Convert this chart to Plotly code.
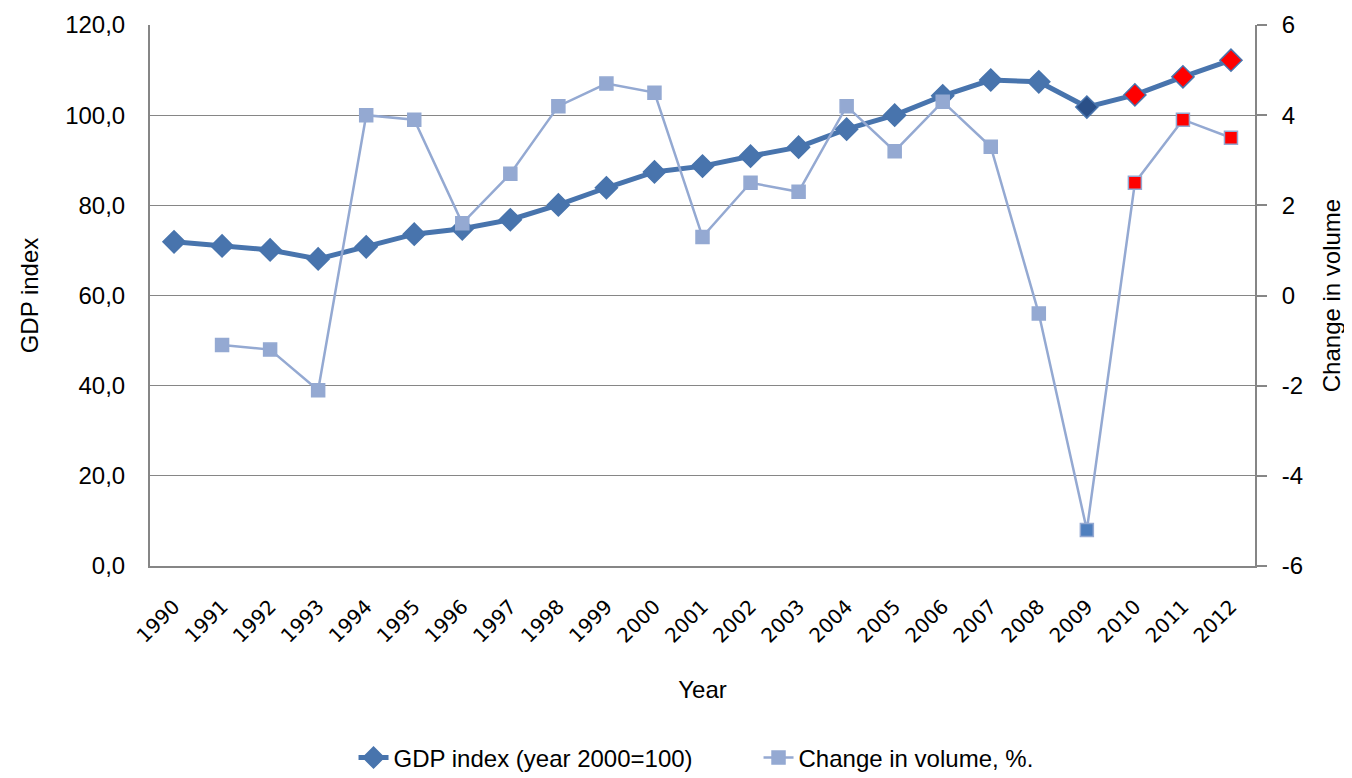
import plotly.graph_objects as go

years = [str(y) for y in range(1990, 2013)]
gdp_index = [71.9, 71.0, 70.1, 68.1, 70.8, 73.6, 74.8, 76.8, 80.1, 83.9, 87.4, 88.7,
             90.9, 92.9, 96.9, 100.0, 104.3, 107.8, 107.4, 101.8, 104.5, 108.5, 112.2]
change_years = years[1:]
change_volume = [-1.1, -1.2, -2.1, 4.0, 3.9, 1.6, 2.7, 4.2, 4.7, 4.5, 1.3, 2.5,
                 2.3, 4.2, 3.2, 4.3, 3.3, -0.4, -5.2, 2.5, 3.9, 3.5]
left_ticks = [0, 20, 40, 60, 80, 100, 120]
left_ticktext = ["0,0", "20,0", "40,0", "60,0", "80,0", "100,0", "120,0"]
right_ticks = [-6, -4, -2, 0, 2, 4, 6]
right_ticktext = ["-6", "-4", "-2", "0", "2", "4", "6"]

GDP_C = "#4874AD"
CHG_C = "#94A9D2"

def gdp_fill(y):
    if y == "2009":
        return "#2B5088"
    if y in ("2010", "2011", "2012"):
        return "#FF0000"
    return GDP_C

def chg_fill(y):
    if y == "2009":
        return "#4F7FBE"
    if y in ("2010", "2011", "2012"):
        return "#FF0000"
    return CHG_C

font = "Liberation Sans, Arial, sans-serif"
yearfont = "DejaVu Sans, Verdana, sans-serif"

fig = go.Figure()
fig.add_trace(go.Scatter(
    x=years, y=gdp_index, name="GDP index (year 2000=100)", mode="lines+markers",
    line=dict(color=GDP_C, width=5),
    marker=dict(symbol="diamond", size=17, color=[gdp_fill(y) for y in years],
                line=dict(color=GDP_C, width=1.5)),
    yaxis="y"))
fig.add_trace(go.Scatter(
    x=change_years, y=change_volume, name="Change in volume, %.", mode="lines+markers",
    line=dict(color=CHG_C, width=2.5),
    marker=dict(symbol="square", size=13, color=[chg_fill(y) for y in change_years],
                line=dict(color=CHG_C, width=1.5)),
    yaxis="y2"))

fig.update_layout(
    width=1344, height=770,
    margin=dict(l=142, r=97, t=17, b=212),
    paper_bgcolor="white", plot_bgcolor="white",
    font=dict(family=font, size=24, color="#000000"),
    showlegend=True,
    legend=dict(orientation="h", xref="paper", x=0.5507, xanchor="center",
                yref="container", y=0.026, yanchor="middle",
                font=dict(family=font, size=24), entrywidth=360, entrywidthmode="pixels"),
    xaxis=dict(type="category", range=[-0.5, 22.5], tickangle=-45, automargin=False,
               tickfont=dict(family=yearfont, size=20), ticklabelstandoff=19,
               showline=True, linecolor="#868686", linewidth=2, mirror=False,
               showgrid=False, ticks="",
               title=dict(text="Year", font=dict(family=font, size=24), standoff=35)),
    yaxis=dict(range=[0, 120], tickvals=left_ticks, ticktext=left_ticktext, automargin=False,
               showline=True, linecolor="#868686", linewidth=2,
               showgrid=True, gridcolor="#868686", gridwidth=1.3, zeroline=False,
               ticks="", tickfont=dict(family=font, size=24), ticklabelstandoff=18,
               title=dict(text="GDP index", font=dict(family=font, size=24), standoff=20)),
    yaxis2=dict(range=[-6, 6], tickvals=right_ticks, ticktext=right_ticktext, overlaying="y", side="right",
                automargin=False,
                showline=True, linecolor="#868686", linewidth=2,
                showgrid=False, zeroline=False, ticks="outside", ticklen=10, tickcolor="#868686",
                tickwidth=1.5, tickfont=dict(family=font, size=24), ticklabelstandoff=10,
                title=dict(text="Change in volume", font=dict(family=font, size=24), standoff=21)),
)
fig.write_html("out.html")
